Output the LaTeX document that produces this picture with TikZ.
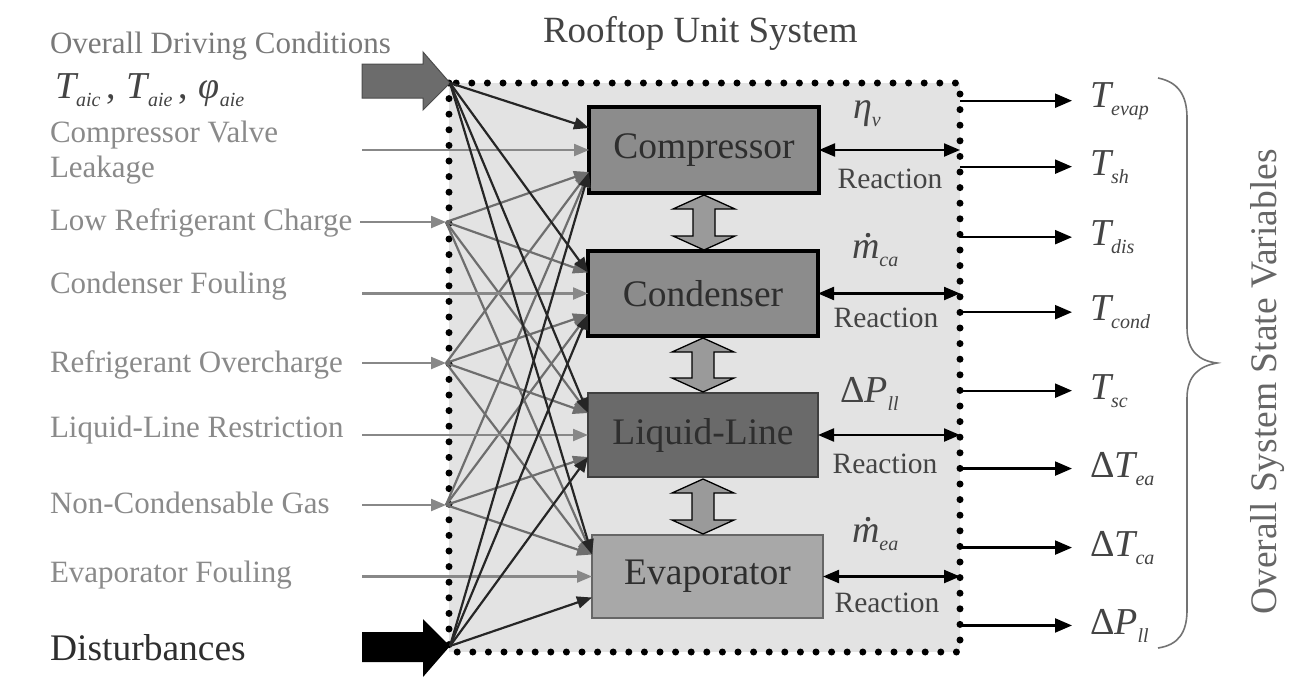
\documentclass[tikz,border=0pt]{standalone}
\usepackage{fontspec}
\setmainfont{Liberation Serif}
\usetikzlibrary{arrows.meta,calc}

\definecolor{boxbg}{HTML}{E3E3E3}
\definecolor{txtgray}{HTML}{8A8A8A}
\definecolor{txtdark}{HTML}{2E2E2E}
\definecolor{lbldark}{HTML}{444444}
\definecolor{fangray}{HTML}{6E6E6E}
\definecolor{fandark}{HTML}{262626}
\definecolor{ingray}{HTML}{888888}
\definecolor{compfill}{HTML}{8C8C8C}
\definecolor{liqfill}{HTML}{6A6A6A}
\definecolor{evapfill}{HTML}{A8A8A8}
\definecolor{fatfill}{HTML}{9A9A9A}

\newcommand\fs[1]{\fontsize{#1}{#1}\selectfont}
% symbol with a small italic subscript
\newcommand\sv[2]{{\itshape #1}\raisebox{-8pt}{\fs{20}\itshape #2}}

% fat double arrow between two stacked components
\newcommand\fatlink[2]{%
  \path[fatarrow] let \p1=(#1.south), \p2=(#2.north) in
    (\x1,\y1-2pt) -- (\x1+31pt,\y1-16pt) -- (\x1+11pt,\y1-16pt)
    -- (\x1+11pt,\y2+15pt) -- (\x1+31pt,\y2+15pt) -- (\x1,\y2+1pt)
    -- (\x1-31pt,\y2+15pt) -- (\x1-11pt,\y2+15pt) -- (\x1-11pt,\y1-16pt)
    -- (\x1-31pt,\y1-16pt) -- cycle;}

\begin{document}
\begin{tikzpicture}[x=1pt,y=-1pt,
  every node/.style={inner sep=0pt,outer sep=0pt},
  lefttxt/.style={anchor=base west,text=txtgray,font={\fs{31}}},
  unit/.style={minimum width=#1,minimum height=85pt,font={\fs{37.5}},text=txtdark},
  fanG/.style={draw=fangray,line width=2.2pt,-{Triangle[length=15pt,width=12pt]}},
  fanD/.style={draw=fandark,line width=2.2pt,-{Triangle[length=15pt,width=12pt]}},
  inarr/.style={draw=ingray,line width=2.2pt,-{Triangle[length=15pt,width=12pt]}},
  react/.style={draw=black,line width=2.2pt,
    {Triangle[length=16pt,width=13pt]}-{Triangle[length=16pt,width=13pt]}},
  outarr/.style={draw=black,line width=2.2pt,-{Triangle[length=17pt,width=14pt]},shorten >=18pt},
  outlbl/.style={anchor=base west,text=lbldark,font={\fs{38}}},
  inlbl/.style={anchor=base west,text=lbldark,font={\fs{38}}},
  reactlbl/.style={anchor=base,text=lbldark,font={\fs{29.5}}},
  fatarrow/.style={fill=fatfill,draw=black,line width=1.3pt},
  flowdot/.style={fill=lbldark},
  dots/.style={line width=7pt,dash pattern=on 0pt off 15.6pt,line cap=round}]

\useasboundingbox (0,0) rectangle (1305,691);

% ---- system boundary ----
\node[fill=boxbg,minimum width=511pt,minimum height=569pt] (sys) at (704.5,367.5) {};
\draw[dots] (sys.north west) rectangle (sys.south east);
\node[anchor=base west,text=lbldark,font={\fs{37}}] (title) at (543,42) {Rooftop Unit System};

% ---- components ----
\node[unit=230pt,minimum height=86pt,fill=compfill,draw=black,line width=4pt] (comp) at (704,150) {Compressor};
\node[unit=230pt,fill=compfill,draw=black,line width=3.5pt] (cond) at (703,293.5) {Condenser};
\node[unit=230pt,minimum height=84pt,fill=liqfill,draw=gray!50!black,line width=2pt] (liq) at (703,435) {Liquid-Line};
\node[unit=231pt,minimum height=83pt,fill=evapfill,draw=gray!80!black,line width=2pt] (evap) at (707.5,576.5) {Evaporator};

\fatlink{comp}{cond}
\fatlink{cond}{liq}
\fatlink{liq}{evap}

% ---- inputs on the left ----
\node[lefttxt,text=gray!95!black] (drv) at (50,53) {Overall Driving Conditions};
\node[anchor=base west,text=lbldark,font={\fs{38}}] (tvars) at (55,98)
  {\sv{T}{aic}\,,\;\sv{T}{aie}\,,\;\sv{φ}{aie}};
\node[lefttxt,anchor=north west,align=left,font={\fontsize{31}{35}\selectfont}] (cvl) at (50,121) {Compressor Valve\\Leakage};
\node[lefttxt] (lrc) at (50,230) {Low Refrigerant Charge};
\node[lefttxt] (cf)  at (50,293) {Condenser Fouling};
\node[lefttxt] (ro)  at (50,372) {Refrigerant Overcharge};
\node[lefttxt] (llr) at (50,437) {Liquid-Line Restriction};
\node[lefttxt] (ncg) at (50,513) {Non-Condensable Gas};
\node[lefttxt] (ef)  at (50,582) {Evaporator Fouling};
\node[anchor=base west,text=txtdark,font={\fs{37.5}}] (dist) at (50,660) {Disturbances};

% distribution points on the boundary
\coordinate (h0) at (450,83);
\coordinate (h1) at (446,222);
\coordinate (h2) at (446,363);
\coordinate (h3) at (446,505);
\coordinate (h4) at (450,646);

% start points of the input lines
\coordinate (cvl-s) at (362,150);
\coordinate (lrc-s) at (360,222);
\coordinate (cf-s)  at (362,293.5);
\coordinate (ro-s)  at (362,363);
\coordinate (llr-s) at (362,435);
\coordinate (ncg-s) at (362,505);
\coordinate (ef-s)  at (362,576.5);

% fat input arrows
\filldraw[fill=gray!85!black,draw=gray!60!black,line width=1pt]
  (362,64) -- (423,64) -- (423,52) -- (h0) -- (423,110) -- (423,98) -- (362,98) -- cycle;
\fill[black]
  (362,632) -- (423,632) -- (423,619) -- (h4) -- (423,677) -- (423,662) -- (362,662) -- cycle;

% fan of influences: gray from the fault points, dark from the driving conditions
\foreach \h in {h1,h2,h3}{
  \draw[fanG] (\h) -- ([yshift=-22pt]comp.west);
}
\draw[fanG] (h1) -- ([yshift=21pt]cond.west);
\draw[fanG] (h2) -- ([yshift=-21pt]cond.west);
\draw[fanG] (h3) -- ([yshift=-21pt]cond.west);
\draw[fanG] (h1) -- ([yshift=22pt]liq.west);
\draw[fanG] (h2) -- ([yshift=22pt]liq.west);
\draw[fanG] (h3) -- ([yshift=-22pt]liq.west);
\foreach \h in {h1,h2,h3}{
  \draw[fanG] (\h) -- ([yshift=22pt]evap.west);
}

\draw[inarr] (cvl-s) -- (comp.west);
\draw[inarr] (cf-s) -- (cond.west);
\draw[inarr] (llr-s) -- (liq.west);
\draw[inarr] (ef-s) -- (evap.west);
\draw[inarr] (lrc-s) -- (h1);
\draw[inarr] (ro-s) -- (h2);
\draw[inarr] (ncg-s) -- (h3);

\draw[fanD] (h0) -- ([yshift=22pt]comp.west);
\draw[fanD] (h0) -- ([yshift=21pt]cond.west);
\draw[fanD] (h0) -- ([yshift=22pt]liq.west);
\draw[fanD] (h0) -- ([yshift=22pt]evap.west);
\draw[fanD] (h4) -- ([yshift=-22pt]comp.west);
\draw[fanD] (h4) -- ([yshift=-21pt]cond.west);
\draw[fanD] (h4) -- ([yshift=-22pt]liq.west);
\draw[fanD] (h4) -- ([yshift=-21pt]evap.west);

% ---- interactions with the boundary ----
\draw[react] (comp.east) -- (comp.east -| sys.east);
\draw[react] (cond.east) -- (cond.east -| sys.east);
\draw[react] (liq.east) -- (liq.east -| sys.east);
\draw[react] (evap.east) -- (evap.east -| sys.east);

\node[inlbl] (etav) at (853,118) {\sv{η}{v}};
\node[inlbl] (mca) at (852,258) {\sv{m}{ca}};
\node[inlbl] (dpll) at (840,402) {Δ\sv{P}{ll}};
\node[inlbl] (mea) at (852,542) {\sv{m}{ea}};
% flow-rate dots over the m
\fill[flowdot] ([xshift=16pt,yshift=5pt]mca.north west) circle (2.3pt);
\fill[flowdot] ([xshift=16pt,yshift=5pt]mea.north west) circle (2.3pt);

\node[reactlbl] (r1) at (890,188) {Reaction};
\node[reactlbl] (r2) at (886,327) {Reaction};
\node[reactlbl] (r3) at (885,473) {Reaction};
\node[reactlbl] (r4) at (887,612) {Reaction};

% ---- outputs ----
\node[outlbl] (o1) at (1090,107)   {\sv{T}{evap}};
\node[outlbl] (o2) at (1090,175)   {\sv{T}{sh}};
\node[outlbl] (o3) at (1090,245.5) {\sv{T}{dis}};
\node[outlbl] (o4) at (1090,320.5) {\sv{T}{cond}};
\node[outlbl] (o5) at (1090,399)   {\sv{T}{sc}};
\node[outlbl] (o6) at (1090,477)   {Δ\sv{T}{ea}};
\node[outlbl] (o7) at (1090,556)   {Δ\sv{T}{ca}};
\node[outlbl] (o8) at (1090,634)   {Δ\sv{P}{ll}};
\foreach \o in {o1,o2,o3,o4,o5,o6,o7,o8}{
  \draw[outarr] (sys.east |- \o.west) -- (\o.west);
}

% brace grouping the state variables
\draw[gray!90!black,line width=1.6pt]
  (1158,78) .. controls (1178,82) and (1187,95) .. (1187,118)
  -- (1187,328) .. controls (1187,352) and (1200,361) .. (1217,363)
  .. controls (1200,366) and (1187,375) .. (1187,398)
  -- (1187,610) .. controls (1187,633) and (1178,645) .. (1158,648);
\node[rotate=90,text=gray!80!black,font={\fs{37.5}}] (state) at (1268,382) {Overall System State Variables};

\end{tikzpicture}
\end{document}
